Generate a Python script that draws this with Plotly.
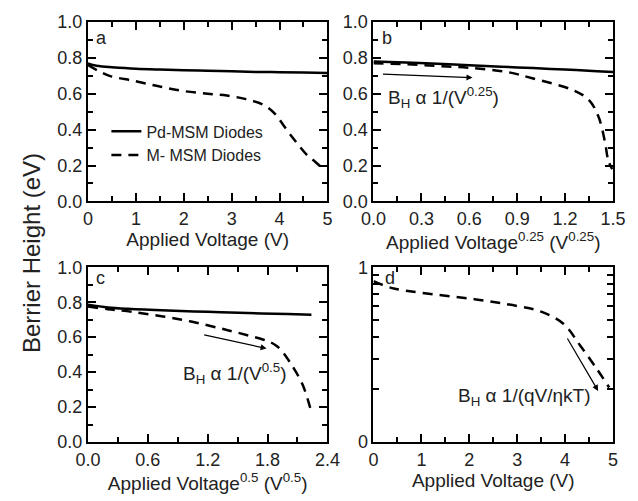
import plotly.graph_objects as go
import numpy as np

# Panel a: applied voltage (V)
a_solid_x = [0, 0.1, 0.3, 0.5, 1.0, 1.5, 2.0, 2.5, 3.0, 3.5, 4.0, 4.5, 5.0]
a_solid_y = [0.77, 0.76, 0.752, 0.748, 0.740, 0.735, 0.731, 0.728, 0.725, 0.722, 0.720, 0.718, 0.716]
a_dash_x = [0, 0.2, 0.45, 1.0, 1.5, 2.0, 2.5, 2.9, 3.3, 3.65, 3.9, 4.12, 4.35, 4.57, 4.75, 4.95]
a_dash_y = [0.76, 0.73, 0.70, 0.67, 0.64, 0.615, 0.60, 0.59, 0.57, 0.54, 0.49, 0.41, 0.33, 0.26, 0.22, 0.17]

# Panel b: V^0.25
b_solid_x = [0, 0.2, 0.4, 0.6, 0.8, 1.0, 1.2, 1.4, 1.5]
b_solid_y = [0.78, 0.774, 0.767, 0.759, 0.751, 0.743, 0.735, 0.726, 0.721]
b_dash_x = [0, 0.2, 0.4, 0.6, 0.845, 1.0, 1.25, 1.35, 1.41, 1.45, 1.47, 1.495]
b_dash_y = [0.77, 0.765, 0.755, 0.745, 0.72, 0.685, 0.62, 0.565, 0.47, 0.33, 0.23, 0.18]

# Panel c: V^0.5
c_solid_x = [0, 0.2, 0.4, 0.8, 1.2, 1.6, 2.0, 2.24]
c_solid_y = [0.785, 0.77, 0.762, 0.752, 0.745, 0.738, 0.732, 0.729]
c_dash_x = [0, 0.2, 0.44, 0.94, 1.4, 1.76, 1.85, 1.93, 2.02, 2.15, 2.24]
c_dash_y = [0.775, 0.76, 0.745, 0.70, 0.64, 0.585, 0.565, 0.53, 0.46, 0.33, 0.17]

# Panel d: applied voltage (V), log axis
d_dash_x = [0, 0.37, 1.0, 2.14, 3.0, 3.5, 3.97, 4.31, 4.65, 4.92]
d_dash_y = [0.834, 0.762, 0.715, 0.655, 0.60, 0.557, 0.474, 0.358, 0.265, 0.205]

FONT = "Liberation Sans, Arial, sans-serif"
fig = go.Figure()

solid = dict(color="black", width=2.5)
dash = dict(color="black", width=2.5, dash="10px,7px")

fig.add_trace(go.Scatter(x=a_solid_x, y=a_solid_y, mode="lines", line=solid, name="Pd-MSM Diodes",
                         line_shape="spline", xaxis="x", yaxis="y"))
fig.add_trace(go.Scatter(x=a_dash_x, y=a_dash_y, mode="lines", line=dash, name="M- MSM Diodes",
                         line_shape="spline", xaxis="x", yaxis="y"))
fig.add_trace(go.Scatter(x=b_solid_x, y=b_solid_y, mode="lines", line=solid, showlegend=False,
                         line_shape="spline", xaxis="x2", yaxis="y2"))
fig.add_trace(go.Scatter(x=b_dash_x, y=b_dash_y, mode="lines", line=dash, showlegend=False,
                         line_shape="spline", xaxis="x2", yaxis="y2"))
fig.add_trace(go.Scatter(x=c_solid_x, y=c_solid_y, mode="lines", line=solid, showlegend=False,
                         line_shape="spline", xaxis="x3", yaxis="y3"))
fig.add_trace(go.Scatter(x=c_dash_x, y=c_dash_y, mode="lines", line=dash, showlegend=False,
                         line_shape="spline", xaxis="x3", yaxis="y3"))
fig.add_trace(go.Scatter(x=d_dash_x, y=d_dash_y, mode="lines", line=dash, showlegend=False,
                         line_shape="spline", xaxis="x4", yaxis="y4"))

tickfont = dict(family=FONT, size=18, color="#222")
titlefont = dict(family=FONT, size=19, color="#222")
MINOR = dict(ticks="inside", ticklen=5, tickwidth=2, tickcolor="#000")

def ax(**kw):
    base = dict(showline=True, linecolor="#000", linewidth=2, mirror="allticks",
                ticks="inside", ticklen=8, tickwidth=2, tickcolor="#000",
                showgrid=False, zeroline=False, tickfont=tickfont)
    base.update(kw)
    return base

xl = [0, 0.456]
xr = [0.5438, 1]
yt = [0.5728, 1]
yb = [0, 0.416]

fig.update_layout(
    width=638, height=501,
    margin=dict(l=88, r=13, t=16, b=59),
    plot_bgcolor="white", paper_bgcolor="white",
    font=dict(family=FONT),
    xaxis=ax(domain=xl, anchor="y", range=[0, 5], dtick=1, tick0=0,
             minor=dict(dtick=0.5, **MINOR),
             title=dict(text="Applied Voltage (V)", font=titlefont, standoff=0)),
    yaxis=ax(domain=yt, anchor="x", range=[0, 1], dtick=0.2, tickformat=".1f",
             minor=dict(dtick=0.1, **MINOR)),
    xaxis2=ax(domain=xr, anchor="y2", range=[0, 1.5], dtick=0.3, tick0=0, tickformat=".1f",
              minor=dict(dtick=0.15, **MINOR),
              title=dict(text="Applied Voltage<sup>0.25</sup> (V<sup>0.25</sup>)", font=titlefont, standoff=0)),
    yaxis2=ax(domain=yt, anchor="x2", range=[0, 1], dtick=0.2, tickformat=".1f",
              minor=dict(dtick=0.1, **MINOR)),
    xaxis3=ax(domain=xl, anchor="y3", range=[0, 2.4], dtick=0.6, tick0=0, tickformat=".1f",
              minor=dict(dtick=0.3, **MINOR),
              title=dict(text="Applied Voltage<sup>0.5</sup> (V<sup>0.5</sup>)", font=titlefont, standoff=0)),
    yaxis3=ax(domain=yb, anchor="x3", range=[0, 1], dtick=0.2, tickformat=".1f",
              minor=dict(dtick=0.1, **MINOR)),
    xaxis4=ax(domain=xr, anchor="y4", range=[0, 5], dtick=1, tick0=0,
              minor=dict(dtick=0.5, **MINOR),
              title=dict(text="Applied Voltage (V)", font=titlefont, standoff=0)),
    yaxis4=ax(domain=yb, anchor="x4", type="log", range=[-1, 0],
              tickvals=[0.1, 0.2, 0.3, 0.4, 0.5, 0.6, 0.7, 0.8, 0.9, 1.0],
              ticktext=["0", "", "", "", "", "", "", "", "", "1"], ticklen=6),
    legend=dict(x=0.035, y=0.78, xanchor="left", yanchor="top", bgcolor="rgba(0,0,0,0)",
                font=dict(family=FONT, size=16, color="#222"), tracegroupgap=0,
                itemwidth=30),
    showlegend=True,
)

lab = dict(family=FONT, size=18, color="#222")
arrowlab = dict(family=FONT, size=19, color="#222")
annotations = [
    dict(text="a", x=0.12, y=0.91, xref="x", yref="y", showarrow=False, font=lab, xanchor="left"),
    dict(text="b", x=0.04, y=0.91, xref="x2", yref="y2", showarrow=False, font=lab, xanchor="left"),
    dict(text="c", x=0.06, y=0.94, xref="x3", yref="y3", showarrow=False, font=lab, xanchor="left"),
    dict(text="d", x=0.2, y=np.log10(0.87), xref="x4", yref="y4", showarrow=False, font=lab, xanchor="left"),
    # arrows
    dict(x=0.62, y=0.69, ax=0.05, ay=0.71, xref="x2", yref="y2", axref="x2", ayref="y2",
         showarrow=True, arrowhead=2, arrowsize=1, arrowwidth=1.2, arrowcolor="black", text=""),
    dict(x=1.79, y=0.535, ax=1.15, ay=0.615, xref="x3", yref="y3", axref="x3", ayref="y3",
         showarrow=True, arrowhead=2, arrowsize=1, arrowwidth=1.2, arrowcolor="black", text=""),
    dict(x=4.69, y=np.log10(0.196), ax=4.03, ay=np.log10(0.399), xref="x4", yref="y4", axref="x4", ayref="y4",
         showarrow=True, arrowhead=2, arrowsize=1, arrowwidth=1.2, arrowcolor="black", text=""),
    # arrow labels
    dict(text="B<sub>H</sub> α 1/(V<sup>0.25</sup>)", x=0.08, y=0.58, xref="x2", yref="y2",
         showarrow=False, font=arrowlab, xanchor="left"),
    dict(text="B<sub>H</sub> α 1/(V<sup>0.5</sup>)", x=0.93, y=0.39, xref="x3", yref="y3",
         showarrow=False, font=arrowlab, xanchor="left"),
    dict(text="B<sub>H</sub> α 1/(qV/ηkT)", x=1.73, y=np.log10(0.18), xref="x4", yref="y4",
         showarrow=False, font=arrowlab, xanchor="left"),
    # global y title
    dict(text="Berrier Height (eV)", x=(30 - 88) / 537, y=(442 - 250) / 426, xref="paper", yref="paper",
         showarrow=False, textangle=-90, xanchor="center", yanchor="middle",
         font=dict(family=FONT, size=24, color="#222")),
]
fig.update_layout(annotations=annotations)

fig.write_html("out.html")
